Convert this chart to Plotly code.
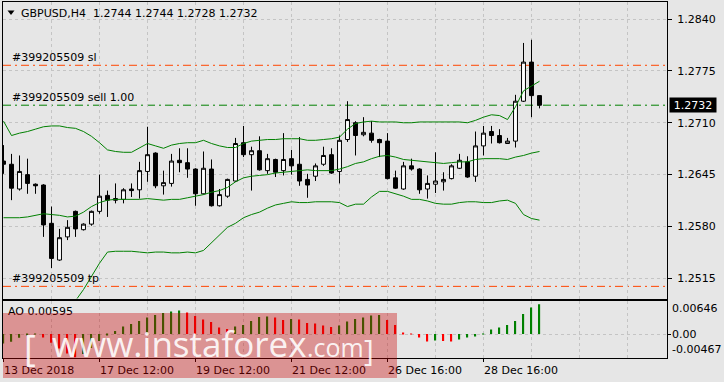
import plotly.graph_objects as go

# ---------------- data ----------------
bar_index = list(range(68))
opens = [1.2662, 1.2658, 1.2627, 1.2645, 1.2633, 1.2632, 1.2584, 1.2538, 1.2567, 1.2599,
         1.2576, 1.2583, 1.2599, 1.2619, 1.2615, 1.2614, 1.2627, 1.2626, 1.2649, 1.2672,
         1.2631, 1.2634, 1.2663, 1.2660, 1.2652, 1.2621, 1.2652, 1.2606, 1.2618, 1.2637,
         1.2685, 1.2670, 1.2675, 1.2650, 1.2664, 1.2650, 1.2665, 1.2658, 1.2639, 1.2643,
         1.2658, 1.2670, 1.2649, 1.2689, 1.2710, 1.2695, 1.2697, 1.2689, 1.2687, 1.2641,
         1.2627, 1.2656, 1.2652, 1.2627, 1.2633, 1.2636, 1.2640, 1.2653, 1.2661, 1.2643,
         1.2681, 1.2699, 1.2694, 1.2684, 1.2687, 1.2737, 1.2786, 1.2744]
highs = [1.2682, 1.2671, 1.2669, 1.2665, 1.2634, 1.2633, 1.2605, 1.2577, 1.2588, 1.2600,
         1.2584, 1.2600, 1.2645, 1.2625, 1.2634, 1.2628, 1.2634, 1.2661, 1.2705, 1.2673,
         1.2650, 1.2671, 1.2678, 1.2678, 1.2653, 1.2674, 1.2664, 1.2627, 1.2640, 1.2691,
         1.2706, 1.2680, 1.2693, 1.2671, 1.2665, 1.2697, 1.2676, 1.2692, 1.2646, 1.2659,
         1.2680, 1.2678, 1.2694, 1.2737, 1.2712, 1.2717, 1.2712, 1.2690, 1.2697, 1.2650,
         1.2661, 1.2665, 1.2653, 1.2644, 1.2673, 1.2648, 1.2658, 1.2671, 1.2668, 1.2699,
         1.2706, 1.2706, 1.2702, 1.2691, 1.2745, 1.2810, 1.2814, 1.2744]
lows = [1.2646, 1.2613, 1.2625, 1.2621, 1.2621, 1.2567, 1.2528, 1.2537, 1.2563, 1.2567,
        1.2575, 1.2581, 1.2596, 1.2592, 1.2609, 1.2609, 1.2617, 1.2615, 1.2636, 1.2628,
        1.2620, 1.2630, 1.2648, 1.2641, 1.2606, 1.2620, 1.2605, 1.2605, 1.2616, 1.2636,
        1.2667, 1.2625, 1.2650, 1.2646, 1.2642, 1.2644, 1.2645, 1.2631, 1.2616, 1.2637,
        1.2656, 1.2646, 1.2634, 1.2686, 1.2669, 1.2693, 1.2685, 1.2667, 1.2639, 1.2627,
        1.2626, 1.2650, 1.2621, 1.2615, 1.2622, 1.2625, 1.2639, 1.2652, 1.2641, 1.2636,
        1.2669, 1.2684, 1.2684, 1.2684, 1.2679, 1.2736, 1.2717, 1.2728]
closes = [1.2658, 1.2628, 1.2649, 1.2634, 1.2631, 1.2582, 1.2540, 1.2566, 1.2579, 1.2577,
          1.2583, 1.2599, 1.2618, 1.2613, 1.2613, 1.2626, 1.2625, 1.2650, 1.2670, 1.2631,
          1.2635, 1.2662, 1.2660, 1.2652, 1.2621, 1.2653, 1.2606, 1.2620, 1.2639, 1.2684,
          1.2670, 1.2675, 1.2651, 1.2665, 1.2648, 1.2664, 1.2656, 1.2637, 1.2632, 1.2656,
          1.2669, 1.2647, 1.2688, 1.2714, 1.2694, 1.2698, 1.2688, 1.2685, 1.2640, 1.2628,
          1.2656, 1.2652, 1.2626, 1.2634, 1.2637, 1.2639, 1.2656, 1.2663, 1.2642, 1.2681,
          1.2697, 1.2694, 1.2685, 1.2687, 1.2737, 1.2786, 1.2744, 1.2732]

bb_upper = [1.2712, 1.2694, 1.2697, 1.2699, 1.2702, 1.2705, 1.2706, 1.2706, 1.2704, 1.2703,
            1.2699, 1.2693, 1.2685, 1.2676, 1.2674, 1.2673, 1.2673, 1.2678, 1.2684, 1.2681,
            1.2678, 1.2682, 1.2684, 1.2685, 1.2685, 1.2688, 1.2684, 1.2681, 1.2679, 1.2679,
            1.2684, 1.2687, 1.2688, 1.2689, 1.2689, 1.2690, 1.2690, 1.2690, 1.2688, 1.2688,
            1.2689, 1.2690, 1.2692, 1.2702, 1.2709, 1.2711, 1.2712, 1.2711, 1.2711, 1.2711,
            1.2710, 1.2710, 1.2711, 1.2711, 1.2711, 1.2711, 1.2711, 1.2711, 1.2710, 1.2713,
            1.2717, 1.2720, 1.2719, 1.2714, 1.2730, 1.2750, 1.2756, 1.2762]
bb_middle = [1.2591, 1.2591, 1.2591, 1.2592, 1.2594, 1.2596, 1.2595, 1.2594, 1.2592, 1.2593,
             1.2598, 1.2605, 1.2610, 1.2613, 1.2614, 1.2614, 1.2614, 1.2614, 1.2615, 1.2614,
             1.2613, 1.2614, 1.2614, 1.2616, 1.2618, 1.2620, 1.2623, 1.2625, 1.2629, 1.2636,
             1.2641, 1.2643, 1.2644, 1.2645, 1.2647, 1.2648, 1.2649, 1.2650, 1.2651, 1.2650,
             1.2650, 1.2650, 1.2652, 1.2655, 1.2659, 1.2661, 1.2665, 1.2668, 1.2669, 1.2667,
             1.2664, 1.2663, 1.2662, 1.2661, 1.2660, 1.2659, 1.2660, 1.2661, 1.2661, 1.2664,
             1.2665, 1.2665, 1.2665, 1.2664, 1.2667, 1.2669, 1.2672, 1.2674]
bb_lower = [1.2481, 1.2475, 1.2472, 1.2471, 1.2472, 1.2475, 1.2477, 1.2480, 1.2482, 1.2487,
            1.2501, 1.2517, 1.2534, 1.2548, 1.2549, 1.2549, 1.2549, 1.2548, 1.2547, 1.2548,
            1.2548, 1.2547, 1.2547, 1.2548, 1.2547, 1.2550, 1.2560, 1.2570, 1.2579, 1.2584,
            1.2591, 1.2595, 1.2598, 1.2603, 1.2607, 1.2609, 1.2611, 1.2610, 1.2610, 1.2611,
            1.2611, 1.2611, 1.2610, 1.2605, 1.2608, 1.2608, 1.2617, 1.2624, 1.2624, 1.2621,
            1.2618, 1.2614, 1.2614, 1.2612, 1.2609, 1.2608, 1.2608, 1.2610, 1.2611, 1.2611,
            1.2610, 1.2610, 1.2612, 1.2613, 1.2609, 1.2595, 1.2590, 1.2588]

ao_values = [-0.0019, -0.00155, -0.00074, -0.0003, -0.0001, -0.0007, -0.00175, -0.0029, -0.0039, -0.00467,
             -0.0040, -0.0028, -0.0014, -0.0002, 0.0006, 0.0015, 0.0020, 0.0026, 0.0033, 0.0038,
             0.0042, 0.0045, 0.0047, 0.0043, 0.0036, 0.0029, 0.0024, 0.0013, 0.0010, 0.0015,
             0.0018, 0.0026, 0.0034, 0.0035, 0.0033, 0.0028, 0.0030, 0.0029, 0.0022, 0.0021,
             0.0017, 0.0014, 0.0017, 0.0025, 0.0030, 0.0033, 0.0037, 0.0038, 0.0028, 0.0018,
             0.0003, 0.0001, -0.0007, -0.0015, -0.0013, -0.0014, -0.0015, -0.0011, -0.0007, -0.0005,
             0.0001, 0.0009, 0.0013, 0.0018, 0.0026, 0.0040, 0.0053, 0.00595]
ao_axis_max = 0.00646
ao_axis_min = -0.00467

price_ticks = [1.2515, 1.2580, 1.2645, 1.2710, 1.2775, 1.2840]
date_label_pos = [0, 12, 24, 36, 48, 60]
date_labels = ["13 Dec 2018", "17 Dec 12:00", "19 Dec 12:00", "21 Dec 12:00",
               "26 Dec 16:00", "28 Dec 16:00"]
order_id = "#399205509"
sl_price = 1.2782
sell_price = 1.2732
tp_price = 1.2505
symbol = "GBPUSD,H4"

# ---------------- styling / layout helpers ----------------
W, H = 724, 382
ML, MR, MT, MB = 3, 57, 2, 24
PW, PH = W - ML - MR, H - MT - MB
BG = "#e6e6e6"
GRID = "#c4c4c4"
FONT = "DejaVu Sans"
GREEN = "#008000"
ORANGE = "#ff4500"


def px_x(px):
    return (px - ML) / PW


def px_y(py):
    return (H - MB - py) / PH


main_dom = [px_y(298.5), 1.0]
ao_dom = [0.0, px_y(300.5)]
x_left = -0.0625
x_range = [x_left, x_left + PW / 8.0]
y_range = [1.24898, 1.28613]
ao_range = [-0.0048, 0.0067]

ao_colors = []
for i, v in enumerate(ao_values):
    if i == 0 or v > ao_values[i - 1]:
        ao_colors.append(GREEN)
    else:
        ao_colors.append("#ff0000")

fig = go.Figure()
for band in (bb_upper, bb_middle, bb_lower):
    fig.add_trace(go.Scatter(x=bar_index, y=band, mode="lines",
                             line=dict(color=GREEN, width=1),
                             hoverinfo="skip", showlegend=False,
                             xaxis="x", yaxis="y"))

fig.add_trace(go.Candlestick(
    x=bar_index, open=opens, high=highs, low=lows, close=closes,
    increasing=dict(fillcolor="white", line=dict(color="black", width=1)),
    decreasing=dict(fillcolor="black", line=dict(color="black", width=1)),
    whiskerwidth=0, showlegend=False, xaxis="x", yaxis="y"))

fig.add_trace(go.Bar(x=bar_index, y=ao_values, width=0.16,
                     marker=dict(color=ao_colors, line=dict(width=0)),
                     showlegend=False, xaxis="x2", yaxis="y2"))

shapes = []
for lvl, col in ((sl_price, ORANGE), (sell_price, GREEN), (tp_price, ORANGE)):
    shapes.append(dict(type="line", xref="x domain", yref="y", x0=0, x1=1,
                       y0=lvl, y1=lvl, layer="below",
                       line=dict(color=col, width=1, dash="8px,4px,2px,4px")))
# small black triangle of the title bar
tri = "M {:.5f} {:.5f} L {:.5f} {:.5f} L {:.5f} {:.5f} Z".format(
    px_x(7.5), px_y(10.5), px_x(14.5), px_y(10.5), px_x(11), px_y(15))
shapes.append(dict(type="path", xref="paper", yref="paper", path=tri,
                   fillcolor="black", line=dict(width=0)))

ann = []


def label(text, x, y, xref="paper", yref="paper", size=11, color="black",
          xanchor="left", yanchor="middle", **kw):
    d = dict(text=text, x=x, y=y, xref=xref, yref=yref, showarrow=False,
             xanchor=xanchor, yanchor=yanchor,
             font=dict(family=FONT, size=size, color=color))
    d.update(kw)
    ann.append(d)


title = "{}&nbsp;&nbsp;{:.4f} {:.4f} {:.4f} {:.4f}".format(
    symbol, opens[-1], highs[-1], lows[-1], closes[-1])
label(title, px_x(19), px_y(13))
label(order_id + " sl", px_x(10), sl_price, yref="y", yanchor="bottom", yshift=-1)
label(order_id + " sell 1.00", px_x(10), sell_price, yref="y", yanchor="bottom", yshift=-1)
label(order_id + " tp", px_x(10), tp_price, yref="y", yanchor="bottom", yshift=-1)
label("AO {:.5f}".format(ao_values[-1]), px_x(6), px_y(311))
label("{:.5f}".format(ao_axis_max), px_x(670), px_y(308.5))
label("0.00", px_x(670), px_y(334.5))
label("{:.5f}".format(ao_axis_min), px_x(670), px_y(349.5))
label("{:.4f}".format(closes[-1]), px_x(669), closes[-1], yref="y", color="white",
      bgcolor="black", borderpad=1, width=44, height=12, align="center")
for pos, txt in zip(date_label_pos, date_labels):
    label(txt, pos, px_y(370), xref="x2", xshift=-2)

# watermark block (drawn over the axis labels)
ann.append(dict(text=" ", x=px_x(3), y=px_y(313), xref="paper", yref="paper",
                xanchor="left", yanchor="top", showarrow=False, width=394, height=65,
                bgcolor="rgba(200,0,0,0.36)", borderpad=0, borderwidth=0))
wm_font = "Open Sans"
ann.append(dict(text="[", x=px_x(22), y=px_y(347), xref="paper", yref="paper",
                xanchor="left", yanchor="middle", showarrow=False,
                font=dict(family=wm_font, size=36, color="rgba(255,255,255,0.9)")))
ann.append(dict(text="www.instaforex", x=px_x(50), y=px_y(343), xref="paper", yref="paper",
                xanchor="left", yanchor="middle", showarrow=False,
                font=dict(family=wm_font, size=35, color="rgba(255,255,255,0.9)")))
ann.append(dict(text=".com", x=px_x(305), y=px_y(347), xref="paper", yref="paper",
                xanchor="left", yanchor="middle", showarrow=False,
                font=dict(family=wm_font, size=25, color="rgba(255,255,255,0.9)")))
ann.append(dict(text="]", x=px_x(362), y=px_y(349), xref="paper", yref="paper",
                xanchor="left", yanchor="middle", showarrow=False,
                font=dict(family=wm_font, size=30, color="rgba(255,255,255,0.9)")))

grid_pos = list(range(0, 84, 6))

fig.update_layout(
    width=W, height=H, margin=dict(l=ML, r=MR, t=MT, b=MB),
    paper_bgcolor=BG, plot_bgcolor=BG, showlegend=False, boxgap=0.3,
    hovermode=False,
    xaxis=dict(domain=[0, 1], anchor="y", range=x_range, showticklabels=False,
               tickvals=grid_pos, ticks="", showgrid=True, gridcolor=GRID,
               griddash="3px,3px", gridwidth=1, zeroline=False,
               showline=True, mirror=True, linecolor="black", linewidth=1,
               rangeslider=dict(visible=False)),
    yaxis=dict(domain=main_dom, anchor="x", side="right", range=y_range,
               tickvals=price_ticks, ticktext=["{:.4f}".format(v) for v in price_ticks],
               ticks="outside", ticklen=4, tickcolor="black", ticklabelstandoff=3,
               tickfont=dict(family=FONT, size=11, color="black"),
               showgrid=True, gridcolor=GRID, griddash="3px,3px", zeroline=False,
               showline=True, mirror=True, linecolor="black", linewidth=1),
    xaxis2=dict(domain=[0, 1], anchor="y2", range=x_range, matches="x",
                tickvals=date_label_pos, ticks="outside", ticklen=3, tickcolor="black",
                showticklabels=False, showgrid=True, gridcolor=GRID, griddash="3px,3px",
                minor=dict(tickvals=grid_pos, showgrid=True, gridcolor=GRID,
                           griddash="3px,3px", ticks=""),
                zeroline=False, showline=True, mirror=True, linecolor="black",
                linewidth=1),
    yaxis2=dict(domain=ao_dom, anchor="x2", side="right", range=ao_range,
                tickvals=[0], ticks="outside", ticklen=3, tickcolor="black",
                showticklabels=False, showgrid=True, gridcolor=GRID,
                griddash="3px,3px", zeroline=False, showline=True, mirror=True,
                linecolor="black", linewidth=1),
    shapes=shapes, annotations=ann,
)

fig.write_html("out.html")
